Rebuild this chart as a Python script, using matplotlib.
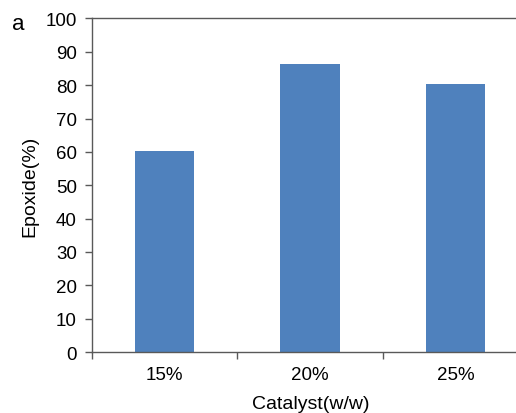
import matplotlib
matplotlib.use("Agg")
import matplotlib.pyplot as plt
from matplotlib.ticker import FixedLocator

CATEGORIES = ["15%", "20%", "25%"]
EPOXIDE = [60.2, 86.4, 80.4]
Y_TICKS = list(range(0, 101, 10))

plt.rcParams["font.family"] = ["Liberation Sans", "DejaVu Sans"]

fig = plt.figure(figsize=(5.16, 4.14), dpi=100)
# plot area runs past the right edge of the picture, like the source
ax = fig.add_axes([0.1783, 0.1473, 0.845, 0.8057])

x = range(len(CATEGORIES))
ax.bar(x, EPOXIDE, width=0.41, color="#4F81BD")

ax.set_xlim(-0.5, len(CATEGORIES) - 0.5)
ax.set_ylim(0, 100)
ax.set_yticks(Y_TICKS)
ax.set_xticks(list(x))
ax.set_xticklabels(CATEGORIES)
ax.xaxis.set_minor_locator(FixedLocator([i - 0.5 for i in range(len(CATEGORIES) + 1)]))

spine_color = "#595959"
for side in ("left", "bottom", "top"):
    ax.spines[side].set_color(spine_color)
    ax.spines[side].set_linewidth(1.0)
ax.spines["right"].set_visible(False)

ax.tick_params(axis="y", direction="out", length=5, width=1, color=spine_color,
               labelsize=13.5, pad=6)
ax.tick_params(axis="x", which="major", length=0, labelsize=13.5, pad=10)
ax.tick_params(axis="x", which="minor", direction="out", length=5, width=1, color=spine_color)

ax.set_ylabel("Epoxide(%)", fontsize=14)
ax.yaxis.set_label_coords(-0.124, 0.5)
ax.set_xlabel("Catalyst(w/w)", fontsize=14)
ax.xaxis.set_label_coords(0.502, -0.13)

fig.text(12 / 516, 1 - 25 / 414, "a", fontsize=16, ha="left", va="center")

fig.savefig("out.png", dpi=100, facecolor="white")
